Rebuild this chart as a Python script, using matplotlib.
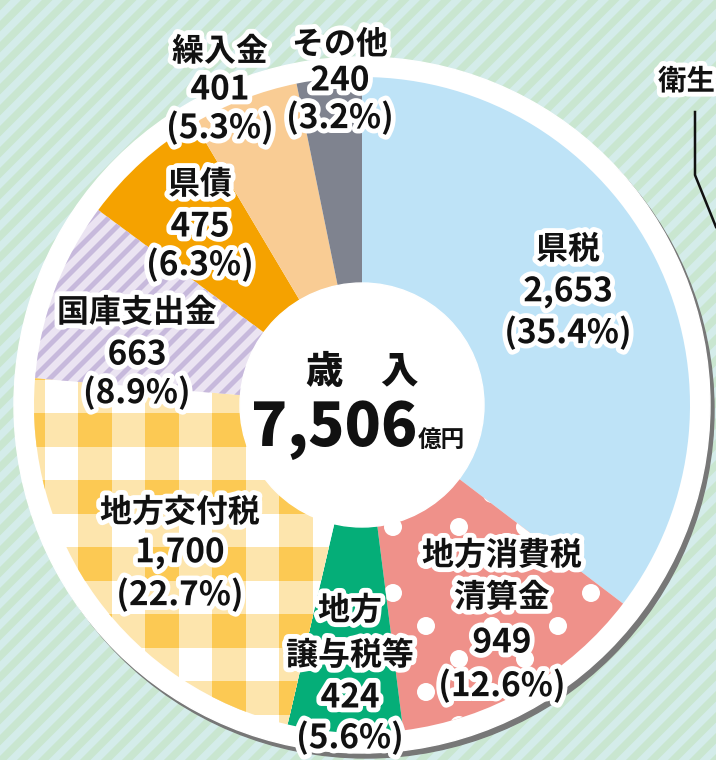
import matplotlib
matplotlib.use('Agg')
import matplotlib.pyplot as plt
import matplotlib.patheffects as pe
from matplotlib.patches import Circle, Rectangle
from matplotlib.collections import PolyCollection, PatchCollection
import numpy as np

plt.rcParams['font.family'] = ['Noto Sans CJK JP', 'DejaVu Sans']

# %%
# 歳入の内訳（億円）
names = [['県税'], ['地方消費税', '清算金'], ['地方', '譲与税等'], ['地方交付税'],
         ['国庫支出金'], ['県債'], ['繰入金'], ['その他']]
values = [2653, 949, 424, 1700, 663, 475, 401, 240]
shares = [35.4, 12.6, 5.6, 22.7, 8.9, 6.3, 5.3, 3.2]
total = 7506
title = '歳　入'
unit = '億円'

# %%
# layout (pixel coords, y down)
W, H = 716, 760
cx, cy = 362, 405
R, R_hole, R_ring = 328, 122, 348
fills = ['#bee3f7', '#ef918a', '#05ae78', '#ffffff', '#ebe4f2', '#f5a200', '#f9cc94', '#7f838f']
label_x = [568, 502, 350, 180, 137, 200, 220, 340]
label_y = [[250, 292, 333], [556, 598, 643, 686], [611, 656, 698, 738], [513, 553, 595],
           [313, 355, 393], [185, 227, 265], [52, 90, 128], [45, 81, 118]]

fig = plt.figure(figsize=(7.16, 7.6), dpi=100)
ax = fig.add_axes([0, 0, 1, 1])

# background: cyan with green diagonal bands
ax.add_patch(Rectangle((0, 0), W, H, color='#d4ecea', zorder=0))
d = 21
bands = [[(c, 0), (c + d / 2, 0), (c + d / 2 - H, H), (c - H, H)] for c in np.arange(0, W + H + d, d)]
ax.add_collection(PolyCollection(bands, facecolors='#c9e6d0', edgecolors='none', zorder=0.5))

# shadow + white ring
ax.add_patch(Circle((cx + 4, cy + 5), R_ring, color='#777777', zorder=1))
ax.add_patch(Circle((cx, cy), R_ring, color='white', zorder=2))

wedges, _ = ax.pie(values, colors=fills, startangle=-90, counterclock=True,
                   radius=R, center=(cx, cy), wedgeprops=dict(linewidth=0), frame=False)
for w in wedges:
    w.set_zorder(3)

# dots on 地方消費税清算金
dots = []
for j in range(-20, 20):
    for i in range(-10, 10):
        dots.append(Circle((393 + 66 * i + 33 * (j % 2), 527 + 33 * j), 9))
pc = PatchCollection(dots, facecolor='white', edgecolor='none', zorder=4)
ax.add_collection(pc)
pc.set_clip_path(wedges[1])

# gingham on 地方交付税
light, dark = '#fde5ad', '#fcc953'
vbands = [Rectangle((78 + 67 * i, 0), 34, H) for i in range(-2, 10)]
hbands = [Rectangle((0, 413 + 67 * j - 67 * 8), W, 34) for j in range(0, 14)]
cross = [Rectangle((78 + 67 * i, 413 + 67 * j - 67 * 8), 34, 34) for i in range(-2, 10) for j in range(0, 14)]
for group, col, z in [(vbands, light, 4), (hbands, light, 4.1), (cross, dark, 4.2)]:
    gc = PatchCollection(group, facecolor=col, edgecolor='none', zorder=z)
    ax.add_collection(gc)
    gc.set_clip_path(wedges[3])

# stripes on 国庫支出金
s = 17
stripes = [[(c, 0), (c + 7, 0), (c + 7 - H, H), (c - H, H)] for c in np.arange(0, W + H + s, s)]
sc = PolyCollection(stripes, facecolors='#c7b9dc', edgecolors='none', zorder=4)
ax.add_collection(sc)
sc.set_clip_path(wedges[4])

ax.add_patch(Circle((cx, cy), R_hole, color='white', zorder=5))

# labels
stroke = [pe.withStroke(linewidth=7, foreground='white')]


def put(x, y, s, size, weight='bold', ha='center'):
    ax.text(x, y, s, ha=ha, va='center', fontsize=size, fontweight=weight,
            color='#111111', path_effects=stroke, zorder=7)


for k in range(len(values)):
    for t, y in zip(names[k], label_y[k]):
        put(label_x[k], y, t, 23)
    nums = [f'{values[k]:,}', f'({shares[k]}%)']
    for t, y in zip(nums, label_y[k][len(names[k]):]):
        put(label_x[k], y, t, 24)

ax.text(cx, 372, title, ha='center', va='center', fontsize=27, fontweight='heavy', color='#111111', zorder=7)
ax.text(334, 430, f'{total:,}', ha='center', va='center', fontsize=43, fontweight='heavy', color='#111111', zorder=7)
ax.text(441, 440, unit, ha='center', va='center', fontsize=17, fontweight='bold', color='#111111', zorder=7)

# neighbouring chart, cut off at the edge
put(658, 82, '衛生', 20.5, ha='left')
ax.plot([695, 695, 716], [112, 175, 227], color='#111111', lw=1.8, zorder=6)

ax.set_xlim(0, W)
ax.set_ylim(H, 0)
ax.set_aspect('equal')
ax.axis('off')
fig.savefig('out.png', dpi=100)
